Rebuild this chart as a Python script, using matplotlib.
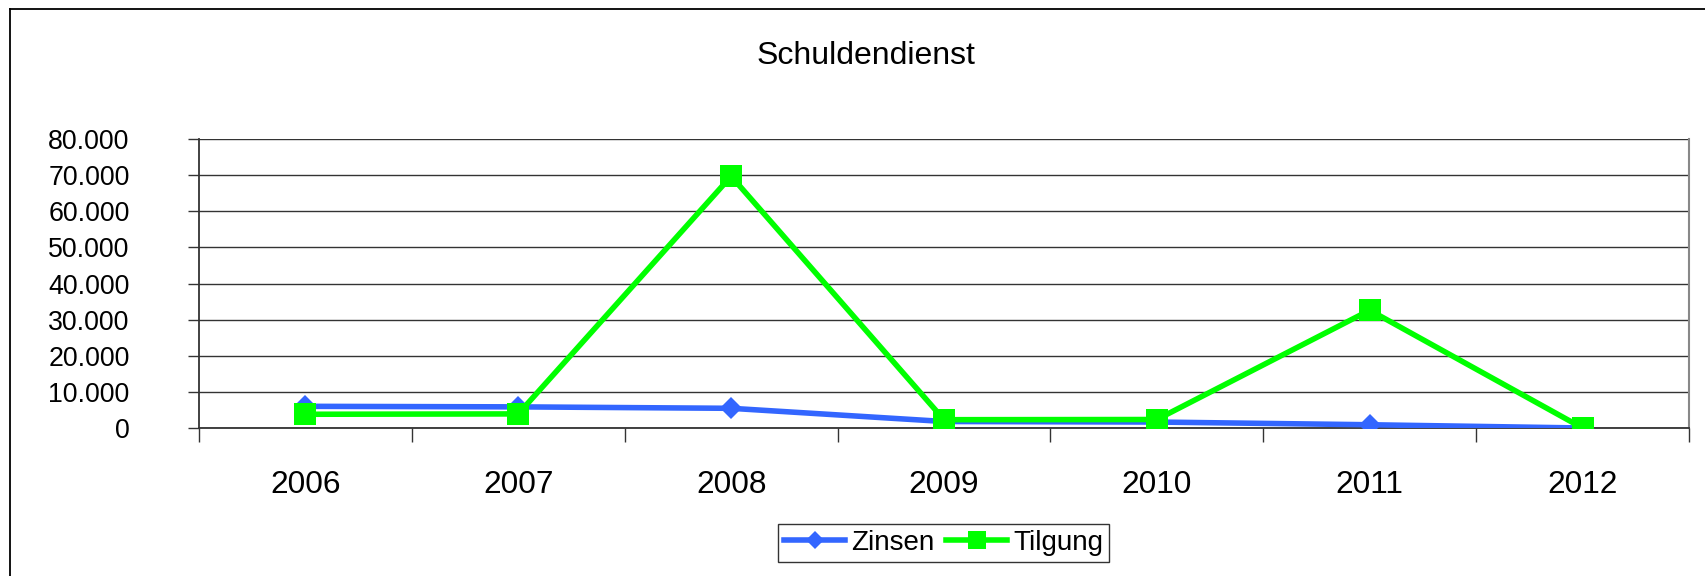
import matplotlib
matplotlib.use("Agg")
import matplotlib.pyplot as plt
from matplotlib.lines import Line2D
from matplotlib.ticker import FuncFormatter, FixedLocator

plt.rcParams['font.family'] = ['Liberation Sans', 'DejaVu Sans']

years = ["2006", "2007", "2008", "2009", "2010", "2011", "2012"]
zinsen = [6000, 5850, 5450, 1800, 1650, 900, 0]
tilgung = [3800, 3900, 69700, 2300, 2350, 32600, 0]
yticks = [0, 10000, 20000, 30000, 40000, 50000, 60000, 70000, 80000]
title = "Schuldendienst"

W, H = 1705, 576
fig = plt.figure(figsize=(W / 100, H / 100), dpi=100)
fig.patch.set_facecolor("white")

# outer chart border (top and left visible)
fig.add_artist(Line2D([10 / W, 1.0], [1 - 9 / H, 1 - 9 / H], transform=fig.transFigure,
                      color="black", lw=1.3))
fig.add_artist(Line2D([10 / W, 10 / W], [0.0, 1 - 9 / H], transform=fig.transFigure,
                      color="black", lw=1.3))

ax = fig.add_axes([199 / W, 1 - 428 / H, (1689 - 199) / W, (428 - 139) / H])
x = list(range(len(years)))

ax.plot(x, zinsen, color="#3366FF", lw=4.0, marker="D", markersize=11,
        markeredgewidth=0, label="Zinsen", zorder=3)
ax.plot(x, tilgung, color="#00FF00", lw=4.0, marker="s", markersize=15.5,
        markeredgewidth=0, label="Tilgung", zorder=4)

ax.set_xlim(-0.5, len(years) - 0.5)
ax.set_ylim(0, 80000)
ax.set_yticks(yticks)
ax.yaxis.set_major_formatter(FuncFormatter(lambda v, p: f"{int(v):,}".replace(",", ".")))
ax.grid(axis="y", color="#333333", lw=1.0)
ax.set_axisbelow(True)

# category labels at centers, ticks at boundaries
ax.set_xticks(x)
ax.set_xticklabels(years)
ax.xaxis.set_minor_locator(FixedLocator([i - 0.5 for i in range(len(years) + 1)]))
ax.tick_params(axis="x", which="major", length=0, pad=30, labelsize=22.8)
ax.tick_params(axis="x", which="minor", length=10, width=1.0, color="#333333")
ax.tick_params(axis="y", length=8, width=1.0, color="#333333", pad=42, labelsize=19.3)

ax.spines["top"].set_visible(False)
ax.spines["right"].set_color("#888888")
ax.spines["right"].set_linewidth(1.5)
ax.spines["left"].set_color("#333333")
ax.spines["left"].set_linewidth(1.3)
ax.spines["bottom"].set_color("#333333")
ax.spines["bottom"].set_linewidth(1.3)

fig.text(866 / W, 1 - 56 / H, title, ha="center", va="center", fontsize=23)

leg = fig.legend(loc="center", bbox_to_anchor=(943.5 / W, 1 - 543 / H), ncol=2,
                 fontsize=20, frameon=True, fancybox=False, edgecolor="black",
                 handlelength=2.2, handletextpad=0.2, columnspacing=0.45,
                 borderpad=0.2, markerscale=0.8)
leg.get_frame().set_linewidth(1.0)

fig.savefig("out.png", dpi=100, facecolor="white")
